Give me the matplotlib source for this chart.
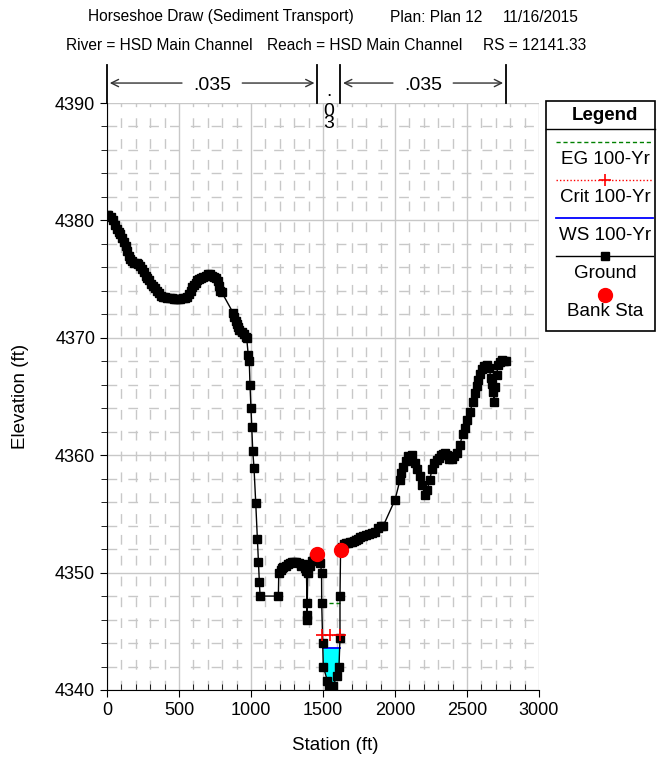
import numpy as np
import matplotlib
matplotlib.use("Agg")
import matplotlib.pyplot as plt
from matplotlib.lines import Line2D
from matplotlib.patches import Rectangle

plt.rcParams['font.family'] = ['Liberation Sans', 'DejaVu Sans']

# ---------------- data ----------------
ground_sta = [0, 10, 25, 40, 55, 67, 80, 90, 105, 118, 130, 140, 150, 160, 172, 190, 205, 217, 230,
              245, 258, 268, 280, 292, 305, 318, 332, 345, 360, 375, 390, 405, 420, 435, 450, 465,
              480, 495, 510, 525, 540, 555, 568, 580, 592, 603, 615, 628, 640, 655, 670, 685, 700,
              715, 730, 745, 758, 770, 778, 786, 796, 877, 885, 893, 900, 910, 920, 935, 950, 962,
              970, 981, 988, 993, 1000, 1005, 1012, 1021, 1033, 1044, 1051, 1058, 1063, 1190, 1193,
              1205, 1215, 1225, 1240, 1255, 1270, 1285, 1300, 1315, 1330, 1345, 1360, 1375, 1385,
              1389, 1388, 1389, 1394, 1410, 1425, 1440, 1456, 1470, 1482, 1490, 1491, 1498, 1502,
              1530, 1545, 1560, 1570, 1595, 1611, 1618, 1618, 1622, 1635, 1648, 1660, 1675, 1688,
              1700, 1715, 1730, 1745, 1760, 1780, 1800, 1820, 1840, 1861, 1880, 1900, 1919, 2000,
              2035, 2045, 2058, 2075, 2090, 2116, 2139, 2155, 2174, 2190, 2208, 2222, 2243, 2255,
              2270, 2289, 2305, 2320, 2335, 2347, 2360, 2375, 2394, 2410, 2430, 2451, 2470, 2486,
              2500, 2521, 2540, 2556, 2568, 2579, 2590, 2602, 2618, 2637, 2655, 2665, 2672, 2680,
              2690, 2694, 2705, 2717, 2730, 2741, 2755, 2770]
ground_elev = [4380.5, 4380.5, 4380.3, 4380.0, 4379.6, 4379.3, 4379.0, 4378.8, 4378.5, 4378.2, 4377.8,
               4377.4, 4377.0, 4376.7, 4376.5, 4376.4, 4376.4, 4376.3, 4376.1, 4375.9, 4375.6, 4375.3,
               4375.1, 4374.9, 4374.6, 4374.4, 4374.2, 4374.0, 4373.8, 4373.6, 4373.5, 4373.5, 4373.4,
               4373.4, 4373.4, 4373.3, 4373.3, 4373.3, 4373.3, 4373.4, 4373.4, 4373.5, 4373.7, 4374.0,
               4374.3, 4374.5, 4374.7, 4374.9, 4375.0, 4375.1, 4375.2, 4375.3, 4375.4, 4375.4, 4375.3,
               4375.2, 4375.1, 4374.8, 4374.4, 4374.0, 4373.9, 4372.1, 4371.8, 4371.4, 4371.2, 4370.9,
               4370.7, 4370.5, 4370.3, 4370.1, 4370.0, 4368.5, 4368.0, 4366.0, 4364.0, 4362.4, 4360.4,
               4358.9, 4355.9, 4352.9, 4350.9, 4349.2, 4348.0, 4348.0, 4350.0, 4350.2, 4350.4, 4350.5,
               4350.6, 4350.7, 4350.8, 4350.9, 4350.9, 4350.9, 4350.8, 4350.6, 4350.7, 4350.4, 4350.1,
               4347.4, 4346.4, 4346.0, 4350.0, 4350.6, 4351.0, 4351.3, 4351.6, 4351.3, 4350.8, 4350.0,
               4347.4, 4344.0, 4342.0, 4340.8, 4340.3, 4340.0, 4340.3, 4341.2, 4342.0, 4344.4, 4348.0,
               4351.9, 4352.2, 4352.4, 4352.5, 4352.5, 4352.6, 4352.6, 4352.7, 4352.8, 4352.9, 4353.0,
               4353.1, 4353.2, 4353.3, 4353.4, 4353.5, 4353.8, 4354.0, 4354.0, 4356.2, 4357.9, 4358.5,
               4359.0, 4359.5, 4359.9, 4360.0, 4359.3, 4358.8, 4358.2, 4357.5, 4356.6, 4357.0, 4357.9,
               4358.8, 4359.3, 4359.6, 4359.8, 4360.0, 4360.1, 4360.2, 4360.0, 4359.7, 4359.7, 4359.9,
               4360.2, 4360.9, 4361.8, 4362.3, 4363.0, 4363.7, 4364.5, 4365.3, 4365.9, 4366.4, 4366.9,
               4367.3, 4367.6, 4367.7, 4367.4, 4366.6, 4366.1, 4365.4, 4364.5, 4365.8, 4366.8, 4367.7,
               4367.9, 4368.1, 4368.0, 4368.0]

bank_sta = [1456, 1622]
bank_elev = [4351.6, 4351.9]

ws_elev = 4343.6
ws_sta = [1499, 1617]
crit_elev = 4344.7
crit_sta = [1485, 1625]
crit_marks = [1495, 1549, 1615]
eg_elev = 4347.4
eg_sta = [1491, 1618]
eg_pocket_sta = [1386, 1394]

n_values = [".035", ".03", ".035"]
n_bounds = [0, 1460, 1620, 2770]

title1 = ["Horseshoe Draw (Sediment Transport)", "Plan: Plan 12", "11/16/2015"]
title2 = ["River = HSD Main Channel", "Reach = HSD Main Channel", "RS = 12141.33"]
legend_labels = ["EG 100-Yr", "Crit 100-Yr", "WS 100-Yr", "Ground", "Bank Sta"]

# ---------------- figure ----------------
W, H = 659, 762
fig = plt.figure(figsize=(W / 100, H / 100), dpi=100)


def pf(x, y):
    return x / W, 1 - y / H


ax = fig.add_axes([107 / W, 1 - 690 / H, (539 - 107) / W, (690 - 103) / H])
ax.set_xlim(0, 3000)
ax.set_ylim(4340, 4390)

# grid
ax.set_xticks(np.arange(0, 3001, 500))
ax.set_yticks(np.arange(4340, 4391, 10))
ax.set_xticks(np.arange(0, 3001, 100), minor=True)
ax.set_yticks(np.arange(4340, 4391, 2), minor=True)
ax.grid(which='major', color='#c8c8c8', lw=1.0, ls='-')
ax.grid(which='minor', color='#c8c8c8', lw=1.0, ls=(0, (7, 8)))
ax.set_axisbelow(True)
for s in ['top', 'right']:
    ax.spines[s].set_visible(False)
ax.tick_params(axis='both', which='major', direction='out', length=5, labelsize=13)
ax.tick_params(axis='x', which='minor', direction='in', length=4)
ax.tick_params(axis='y', which='minor', direction='out', length=4)
ax.set_xticklabels([str(v) for v in range(0, 3001, 500)])
ax.set_yticklabels([str(v) for v in range(4340, 4391, 10)])

# water fill
gs = np.array(ground_sta, dtype=float)
ge = np.array(ground_elev, dtype=float)
inch = (gs >= 1490) & (gs <= 1620)
ax.fill_between(gs[inch], ge[inch], ws_elev, where=ge[inch] < ws_elev, interpolate=True,
                color='#00ffff', lw=0, zorder=2)

# EG / Crit / WS
ax.plot(eg_sta, [eg_elev] * 2, color='#008000', ls=(0, (3, 2)), lw=1, zorder=3)
ax.plot(eg_pocket_sta, [eg_elev] * 2, color='#008000', ls=(0, (3, 2)), lw=1, zorder=3)
ax.plot(crit_sta, [crit_elev] * 2, color='red', ls=(0, (1, 1.5)), lw=1, zorder=3)
ax.plot(ws_sta, [ws_elev] * 2, color='blue', lw=1.3, zorder=3)

# ground
ax.plot(gs, ge, color='black', lw=1, marker='s', markersize=5.8, zorder=4)
ax.plot(crit_marks, [crit_elev] * len(crit_marks), ls='none', marker='+', color='red',
        markersize=8, mew=1.2, zorder=5)
# bank stations
ax.plot(bank_sta, bank_elev, ls='none', marker='o', color='red', markersize=10, zorder=5)

fig.text(*pf(335, 746), "Station (ft)", ha='center', va='center', fontsize=13.5)
fig.text(*pf(21, 396), "Elevation (ft)", ha='center', va='center', fontsize=13.5, rotation=90)

# Manning's n annotations above the plot
ytop = 4390
yline_top = 4393.2
yarr = 4391.7
ytxt = 4391.45
for b in n_bounds:
    ax.plot([b, b], [ytop, yline_top], color='black', lw=1.3, clip_on=False, zorder=6)
gap = 190
for (a, b), txt in zip([(n_bounds[0], n_bounds[1]), (n_bounds[2], n_bounds[3])], [n_values[0], n_values[2]]):
    c = (a + b) / 2
    ax.text(c, ytxt, txt, ha='center', va='center', fontsize=14, clip_on=False)
    arr = dict(arrowstyle='->', color='#333333', lw=1, mutation_scale=13)
    ax.annotate('', xy=(a, yarr), xytext=(c - gap, yarr), arrowprops=arr, annotation_clip=False)
    ax.annotate('', xy=(b, yarr), xytext=(c + gap, yarr), arrowprops=arr, annotation_clip=False)
# narrow channel: n value written vertically
mid_chars = list(n_values[1])
fig.text(*pf(329, 96), mid_chars[0], ha='center', va='baseline', fontsize=14)
fig.text(*pf(329, 117.5), "\n".join(mid_chars[1:]), ha='center', va='center',
         fontsize=14, linespacing=0.68, multialignment='center')

# header
fs_h = 11.2
for txt, x in zip(title1, [88, 390, 503]):
    fig.text(*pf(x, 17), txt, ha='left', va='center', fontsize=fs_h)
for txt, x in zip(title2, [66, 267, 483]):
    fig.text(*pf(x, 46), txt, ha='left', va='center', fontsize=fs_h)

# legend
x0, x1, yb0, yb1 = 546, 655, 101, 331
(fx0, fy1) = pf(x0, yb1)
(fx1, fy0) = pf(x1, yb0)
fig.add_artist(Rectangle((fx0, fy1), fx1 - fx0, fy0 - fy1, transform=fig.transFigure,
                         fill=False, ec='black', lw=1.2))
fig.text(*pf(605, 115), "Legend", ha='center', va='center', fontsize=13.5, fontweight='bold')
fig.add_artist(Line2D([fx0, fx1], [pf(0, 129)[1]] * 2, transform=fig.transFigure, color='black', lw=1))
lx0, lx1 = pf(556, 0)[0], pf(653, 0)[0]
lmid = (lx0 + lx1) / 2
y = pf(0, 141.5)[1]
fig.add_artist(Line2D([lx0, lx1], [y, y], transform=fig.transFigure, color='#008000', ls=(0, (3, 2)), lw=1))
y = pf(0, 180)[1]
fig.add_artist(Line2D([lx0, lx1], [y, y], transform=fig.transFigure, color='red', ls=(0, (1, 1.5)), lw=1))
fig.add_artist(Line2D([lmid], [y], transform=fig.transFigure, color='red', marker='+', ls='none', markersize=8, mew=1.2))
y = pf(0, 218)[1]
fig.add_artist(Line2D([lx0, lx1], [y, y], transform=fig.transFigure, color='blue', lw=1.3))
y = pf(0, 256)[1]
fig.add_artist(Line2D([lx0, lx1], [y, y], transform=fig.transFigure, color='black', lw=1))
fig.add_artist(Line2D([lmid], [y], transform=fig.transFigure, color='black', marker='s', ls='none', markersize=5.8))
y = pf(0, 295)[1]
fig.add_artist(Line2D([lmid], [y], transform=fig.transFigure, color='red', marker='o', ls='none', markersize=10))
for lab, yy in zip(legend_labels, [159, 197, 236, 274, 311]):
    fig.text(*pf(605, yy), lab, ha='center', va='center', fontsize=13.5)

fig.savefig("out.png", dpi=100)
